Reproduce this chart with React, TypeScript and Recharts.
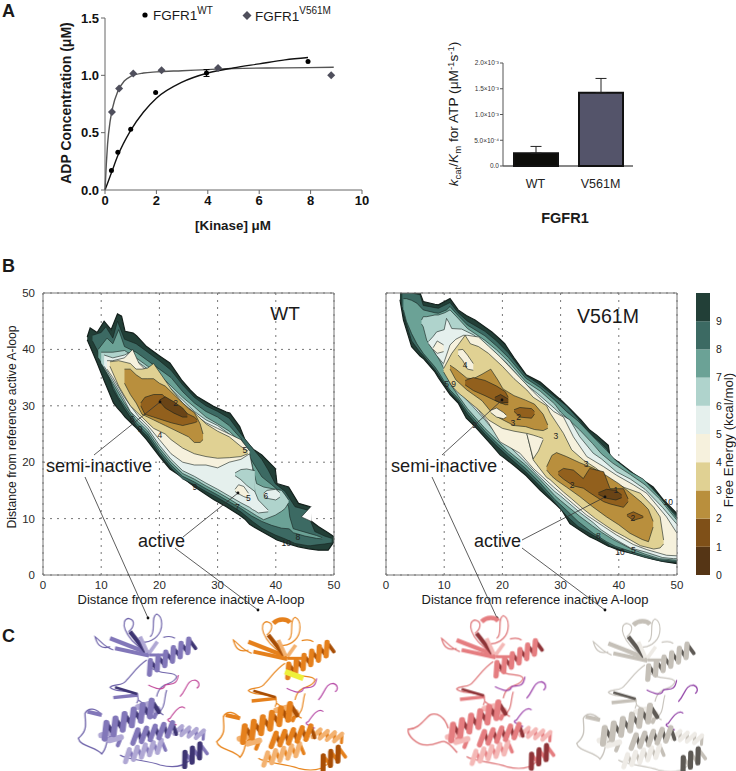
import React from "react";
import {
  ComposedChart, BarChart, Bar, Cell, ErrorBar, Line, Scatter, Area, XAxis, YAxis,
  CartesianGrid, ReferenceLine, ReferenceDot,
} from "recharts";

const FONT = "'Liberation Sans', Arial, sans-serif";

// ---------- Panel A, kinetics ----------
const wtCurve = [[0,0],[0.25,0.15],[0.5,0.3],[1,0.52],[1.5,0.68],[2,0.8],[3,0.94],[4,1.02],[5,1.065],[6,1.1],[7,1.135],[7.9,1.155]];
const vCurve = [[0,0],[0.05,0.22],[0.1,0.4],[0.2,0.6],[0.3,0.72],[0.5,0.86],[0.75,0.95],[1,0.99],[1.5,1.02],[2,1.03],[3,1.04],[4,1.05],[5,1.06],[7,1.065],[8.9,1.07]];
const wtPoints = [[0.25,0.17,0],[0.5,0.33,0],[1,0.53,0],[1.97,0.85,0],[3.95,1.02,0.03],[7.9,1.12,0]];
const vPoints = [[0.27,0.68],[0.55,0.885],[1.1,1.015],[2.2,1.045],[4.4,1.065],[8.8,1.0]];
const kineticXTicks = [0,2,4,6,8,10];
const kineticYTicks = [0,0.5,1,1.5];

// ---------- Panel A, bars ----------
const barCategories = ["WT","V561M"];
const barValues = [2.5e-4,1.42e-3];
const barErrors = [1.3e-4,2.8e-4];
const barColors = ["#0d0d0a","#54546a"];
const barTicks = [0,5e-4,1e-3,1.5e-3,2e-3];
const barTickLabels = ["0.0","5.0×10⁻⁴","1.0×10⁻³","1.5×10⁻³","2.0×10⁻³"];

// ---------- Panel B palette (free-energy bands 0..10) ----------
const bandColors = ["#553515","#7f5018","#b98f3d","#e0d193","#f6f1dd","#e5f0ed","#afd3cc","#6ba296","#3c6a63","#223f37"];
const c1 = "#6a4416", c2 = "#92601d";

// [x, low, high] outlines, WT
const wt10 = [[7.6,41.7,42.2],[8.1,40.5,43.8],[9.3,37.6,43],[10.5,34.5,45],[11.7,31.5,43.5],[12.1,30.5,44.5],[12.8,29.6,46.3],[13.5,28.8,45.9],[14.1,28,43.2],[15.5,26.6,42.9],[16.1,26,42.4],[17.8,24,40.5],[20.1,20.9,38.8],[21.8,18.8,37.6],[23.8,17.4,34.6],[25.3,16.2,32.8],[26.4,15.4,31.7],[29.3,13.4,29.9],[31.5,12.1,28.9],[32.1,11.7,28.7],[33.8,10.6,26.3],[34.7,9.9,24],[35.5,9,23],[36.1,8.6,22.3],[37.6,7.7,21.3],[39.9,6.4,18.9],[40.2,6.2,16.2],[42.2,5.5,15.6],[43.9,5,12.7],[45.9,4.6,12.1],[46,4.6,9.6],[47.3,4.4,8.6],[49,4.4,7.5],[50,5.9,6.8]];
const wt9 = [[8.5,41.5,42.5],[10,38.5,43],[10.8,37,44],[12,33,42],[12.8,31.5,45],[14,29.5,41.8],[16,26.5,41],[18,24.5,39.5],[20,21.5,38],[22,19,36.3],[24,17,33.7],[26,16,31.5],[28,14.8,30],[30,13.7,29],[32,12.5,27.8],[34,11.2,25],[36,9.5,22.5],[37.6,8.3,20.5],[38.7,7.7,18.6],[39.9,7.1,16.2],[41.6,6.4,14.8],[43.3,5.6,12.1],[45.5,5.2,11.5],[46,5.2,9.5],[46.7,5.3,7.7],[48.4,5.5,6.9],[49.6,5.7,6.5]];
const wtNotch = [[44.4,10.3,10.3],[46.1,9.5,12.2]];
const wt8 = [[9.5,38.5,40],[11,36,42],[12,33.5,41],[13,31.5,43.5],[14,30,40.5],[16,27,39.5],[18,25,38],[20,22,36.5],[22,19.5,35],[24,17.5,32.5],[26,16.5,30.5],[28,15.3,29],[30,14.2,28],[32,13,26.5],[34,11.8,24.2],[35.8,10.5,20.4],[37.6,9.5,17.4],[39.3,8.8,16],[41,8.3,14.5],[42.2,8.2,12.1],[42.4,8.1,10.3],[43,7.5,8.2],[45,6.9,7.6],[47,6.5,7],[48,6.4,6.6]];
const wt7 = [[10,37.5,39.5],[12,34,39.5],[14,30.5,39.8],[16,27.5,38.5],[18,25.5,37],[20,22.5,35.5],[22,20,33.5],[24,18,31.5],[26,17,29.8],[28,15.8,28],[30,14.7,26.8],[32,13.5,25.5],[34,12.2,23.5],[35,11.6,22.4],[35.8,11.1,20],[36.7,10.5,16.2],[37.9,9.8,15.6],[39.9,10.6,15.2],[41,11.3,15],[41.6,11.8,14.2],[42.2,12.8,13.3]];
const wt6 = [[10.5,37,39],[12,34.5,38.5],[14,31,39],[15,29,39.5],[16,28,38],[18,26,36.5],[20,23,35],[22,20.5,33],[24,18.5,31],[26,17.5,29],[28,16.3,27.5],[30,15.2,26.5],[32,14,25],[34,12.8,23],[35.5,12,21.5],[36,11.6,19],[36.4,11.4,14.8],[37,11,13.3],[38.7,11.2,11.5]];
const wt7b = [[33,17.6,18.1],[34,16.9,18.7],[35,15.9,18.8],[36.4,14.8,18.5]];
const wt6b = [[37.9,14.2,14.5],[38.5,13.6,15],[40,13.3,15.2],[40.7,13.8,14.6]];
const wt5 = [[11,36.5,38],[12,35,38],[14,31.5,38.5],[15.4,29.5,40],[16.5,28,37.5],[18,26.5,36],[20,24,34.5],[22,21.5,32.5],[24,20,30],[26,19.5,28.5],[28,19.5,27],[30,19,26],[32,20,25],[34,20.5,24],[35.5,21.5,22]];
const wt5b = [[33,14.8,15.2],[33.6,14.4,16],[34.5,13.9,15.7],[35.3,13.6,14.5]];
const wt4 = [[11.5,37,37.8],[13,33.5,38],[15,30,37.5],[16,29,36.5],[17,28,36.5],[18,27,36.7],[19,26,37.5],[20,25.5,36],[21,25,34.5],[22,24,33],[24,22.5,30.5],[26,21.5,28.8],[28,21,26.8],[30,20.7,25.5],[32,20.8,24.5],[34,21,22.8],[35.2,21.5,22]];
const wt3 = [[14,34,36.5],[15,32,36.5],[16,30.5,35.5],[17,28.5,34.8],[18,28,34.8],[19,27.5,34.8],[20,27,34],[21,26.5,33.5],[22,26,32.5],[24,25,30.5],[25,24.5,29.5],[26,23.5,28.8],[27,23.5,26.8],[27.5,24,25]];
const wt2 = [[16.8,30,30.5],[17.5,28.5,31.5],[19,28,32],[20.5,27.5,32],[22,27,30.5],[24,26.5,29],[26,27,28],[26.5,27.2,27.5]];
const wt1 = [[20,30.8,31],[21,29.6,31.6],[22.5,28.7,30.7],[24,28,29.6],[24.8,28,28.6]];

// [x, low, high] outlines, V561M
const v10 = [[2.4,48.8,50],[3,45.2,50],[4.4,40.5,50],[5.85,38.8,50],[6.4,38.4,48.5],[8.4,36,48],[9,35,47.9],[11,32,49],[12.4,30.5,47],[13.8,27.8,46],[15.3,26.3,45.2],[18.2,23,43.1],[19.6,21.3,41.8],[20.4,20.7,41],[22,19.4,38.5],[24.1,17.6,35.5],[26.5,15,34.2],[29.3,12.4,31.7],[30.2,11.5,30.9],[31.6,9.1,29.5],[33.5,7.8,27.5],[35,6.8,25.7],[36.2,6.2,24.8],[38.2,5.1,23],[38.5,5,21],[40,4.4,20],[42.5,3.8,18],[45.9,2.8,15.6],[47.6,2.4,13.4],[50,2,10.9]];
const v9 = [[2.8,47.5,50],[3,46.3,50],[4.4,41.5,50],[5.85,39.5,49.7],[6.4,38.9,47.8],[8.4,36.4,47.4],[9,35.5,47.3],[11,32.4,48.3],[12.4,30.9,46.5],[14,28.5,45],[17,25,43.2],[19,22.9,41.5],[21,21,39.4],[24,18.3,35.4],[26.5,15.7,33.7],[29,12.9,31.6],[31,10.5,30],[33,8.6,27.7],[35,7.4,25],[36.5,6.5,23.8],[38,5.6,22.3],[38.5,5.2,20.7],[41,4.2,19],[44.5,3.1,16.3],[47.5,2.4,13.1],[50,2.2,10.5]];
const v8 = [[3,47,49],[3.5,45,49],[4.4,42.8,48.7],[5.3,41,48.2],[6.4,39.3,47],[8.4,36.9,46.5],[9,36,46.4],[10.4,33.7,47],[11,32.8,47.6],[12.4,31.3,46],[14,29,44.3],[17,25.5,42.4],[19,23.4,40.6],[21,21.5,38.6],[24,18.9,34.9],[26.5,16.3,33.2],[29,13.4,31],[31,11.5,29],[33,9.5,27.3],[35.6,7.4,24.5],[37.9,5.9,22.1],[39.4,5.1,20.4],[42,4.2,18.3],[44.2,3.5,17],[47,2.7,13.9],[50,2.4,10.1]];
const v7 = [[6.1,44.5,45.2],[6.4,44,45.8],[7,41.6,45.8],[8.4,39.5,46.1],[9,38.5,46.1],[10.1,36.3,46.5],[11,34,47],[12.4,31.8,45.5],[14,29.5,43.7],[17,26,41.6],[19,24,39.9],[21,22,37.9],[24,19.5,34.3],[26.5,16.9,32.6],[29,14.1,30.3],[30,13.2,28.9],[33.3,10.4,25.7],[35.5,8.7,23.3],[37,7.6,21.5],[39,6.3,19.8],[42,4.7,17.8],[44.5,3.7,16],[47,2.9,13.5],[50,2.6,9.7]];
const v6 = [[7.3,41,41.4],[8.1,39.9,42.3],[8.7,38.9,43.1],[10,37.3,43.5],[10.4,36.8,45.5],[10.8,35.5,44.8],[11.3,34,43.7],[13,32,43.6],[15,29.8,42.6],[17,27.5,41],[19,25,39.2],[21,23,37.3],[24,20,33.8],[26,17.8,32.2],[29,14.8,29.5],[30,14,28.5],[31.6,12.6,27.5],[33.3,11.1,24.5],[35.6,9.3,21.6],[37,8,20.6],[39.6,6.2,18.3],[42,4.8,17],[44.5,4.1,15.2],[47.5,3.1,12],[49.4,2.9,9.7],[50,2.9,9]];
const v5 = [[9.9,36.3,37.5],[11,35,40.8],[12,33.8,41.8],[13.3,32.6,42.5],[14,32,42.5],[15.9,29.2,42.2],[17.6,27,40.6],[19.6,23.6,38.7],[23,21.6,35],[25.3,18.9,32.5],[28.8,15.6,29],[30.5,14.1,28],[32.2,12.6,24.5],[34.5,10.6,21],[37.4,8.6,19.2],[39.6,7.1,17.7],[42.5,5.4,16],[44.8,4.5,14.5],[48.2,3.5,10.3],[50,3.4,7.4]];
const v5b = [[8.1,40,40.3],[8.8,39.3,41.5],[9.9,39.6,40.8]];
const v4 = [[9.9,36,36.6],[11.3,33.5,39.3],[12.4,32.3,40.8],[13.6,31.3,42.5],[14.5,30.5,41],[15.9,29.3,40.5],[17.6,27.5,39.3],[20,26,37],[22,25.5,34.8],[24.2,25.1,32.8],[25.3,20.4,31.5],[27.6,17.3,30],[28.2,16.9,28.7],[30.5,14.7,25.1],[31.9,13.5,22.2],[33.9,11.7,20.4],[36,10,19],[39,7.9,16.5],[41,6.8,15.5],[43.7,5.2,14.5],[46,4.6,12],[47.1,4.8,10.3],[47.7,5.5,6.2]];
const v4hole = [[12.4,39,39.9],[13.2,38,40],[14,36.5,39],[15,36.3,37.5]];
const v4hole2 = [[24.2,25,25.1],[25.3,20.6,24.8],[26.2,22,24.5],[27,24,24.2]];
const v3a = [[11,36.5,37.2],[12,34.6,36.5],[13.9,32.8,34.9],[15,32,34.8],[16.5,30.9,35.6],[18,29,36.5],[19.2,28,34.6],[20.1,27.5,33],[22,26.5,31.8],[24,26.3,31],[25.5,25.8,30.3],[27,25.6,28.5],[27.8,26,26.6]];
const v3b = [[27.6,18.6,19.2],[28.5,17.5,21.2],[29.3,16.8,21.7],[31,15.6,21],[33.3,13.9,19.9],[35.5,12.1,19],[37.9,10.3,17.6],[40,8.9,16.2],[41.9,7.4,14.6],[44,6.3,12.8],[45.1,5.9,11.6],[45.9,8.5,9.5]];
const v3hole = [[18,28.8,29.2],[19,28,29.6],[20.2,27.7,28.8],[20.7,28,28.3]];
const v2a = [[13.6,33.7,34.5],[15,32.7,35],[17,31.8,34.5],[19,30.8,33.5],[20.5,30.2,32.5],[21,30.2,31.5]];
const v2b = [[22,29,29.3],[23,28,29.7],[25,27.8,29.5],[25.5,28.5,29]];
const v2c = [[29.6,17.8,18.3],[30.5,17,18.9],[32.2,15.8,18.6],[33.9,15.4,17.1],[35,14.6,18.9],[37.4,13,18.3],[38.5,12.6,15.3],[40.8,12,15.3],[41.6,13,13.5]];
const v2d = [[41.4,10.5,10.7],[42.5,9.7,11.2],[44.2,10.2,10.4]];
const v1a = [[18.7,31,31.5],[19.7,30.5,32],[21,30.6,31.2]];
const v1b = [[36.5,14.3,14.6],[37.9,13.6,15.2],[39.5,13.3,15],[40.5,13.7,14.2]];

const wtBands = [[wt10,9],[wt9,8],[wtNotch,"#ffffff"],[wt8,7],[wt7,6],[wt6,5],[wt7b,6],[wt6b,5],[wt5,4],[wt5b,4],[wt4,3],[wt3,2],[wt2,c2],[wt1,c1]];
const vBands = [[v10,9],[v9,8],[v8,7],[v7,6],[v6,5],[v5,4],[v5b,4],[v4,3],[v4hole,4],[v4hole2,4],[v3a,2],[v3b,2],[v3hole,4],[v2a,c2],[v2b,c2],[v2c,c2],[v2d,c2],[v1a,c1],[v1b,c1]];

const wtLabels = [[22.8,30.5,"2"],[15.3,27.7,"6"],[16.7,25.9,"9"],[20.1,24.9,"4"],[34.7,22.2,"5"],[26.1,15.6,"9"],[35.3,13.6,"5"],[38.3,14,"6"],[33.4,12,"7"],[43.8,6.8,"8"],[41.8,5.6,"10"]];
const vLabels = [[13.6,37.2,"4"],[10.4,33.8,"5"],[11.6,33.8,"9"],[22.8,28.1,"2"],[21.8,27,"3"],[29.2,24.7,"3"],[34.4,19.7,"3"],[32,16,"2"],[39.5,15,"1"],[42.4,10.1,"2"],[36.5,7,"8"],[42.5,4.5,"5"],[40.2,4,"10"],[48.5,13,"10"],[15.2,26.6,"9"]];
const contourTicks = [0,10,20,30,40,50];

// ---------- Colour bar ----------
const colorBarRow = [{ name: "fe", b0:1,b1:1,b2:1,b3:1,b4:1,b5:1,b6:1,b7:1,b8:1,b9:1 }];
const colorBarKeys = ["b0","b1","b2","b3","b4","b5","b6","b7","b8","b9"];
const colorBarTicks = [0,1,2,3,4,5,6,7,8,9];

// ---------- Helpers ----------
const rows = (pts) => pts.map((p) => ({ x: p[0], v: [p[1], p[2]] }));
const xy = (pts) => pts.map((p) => ({ x: p[0], y: p[1], e: p[2] ?? 0 }));
const tickStyle = { fontSize: 11.5, fill: "#2a2a2a", fontFamily: FONT };

function ContourChart({ bands, labels, left, showY }) {
  return (
    <div style={{ position: "absolute", left, top: 283 }}>
      <ComposedChart width={345} height={312} margin={{ top: 10, right: 11, bottom: 0, left: 0 }}>
        <CartesianGrid stroke="#777" strokeDasharray="2 5" strokeWidth={1} />
        <XAxis type="number" dataKey="x" domain={[0,50]} ticks={contourTicks} allowDataOverflow height={20}
          tick={tickStyle} tickLine={false} axisLine={{ stroke: "#777" }} tickMargin={0} interval={0} />
        <YAxis type="number" domain={[0,50]} ticks={contourTicks} allowDataOverflow width={43}
          tick={showY ? tickStyle : false} tickLine={false} axisLine={{ stroke: "#777" }} tickMargin={2} interval={0} />
        {bands.map(([pts, c], i) => (
          <Area key={i} data={rows(pts)} dataKey="v" type="linear" isAnimationActive={false}
            fill={typeof c === "number" ? bandColors[c] : c} fillOpacity={1} stroke="#14201c" strokeWidth={i === 0 ? 1.2 : 0.6}
            dot={false} activeDot={false} />
        ))}
        <ReferenceLine x={50} stroke="#777" />
        <ReferenceLine y={50} stroke="#777" />
        {labels.map(([x, y, t], i) => (
          <ReferenceDot key={i} x={x} y={y} r={0} fill="none" stroke="none"
            label={{ value: t, position: "center", fontSize: 8.5, fill: "#222", fontFamily: FONT }} />
        ))}
      </ComposedChart>
    </div>
  );
}

// ---------- Panel C, ribbon sketches (coordinates are on a 3x page grid) ----------
const helices = [
  [440,208,578,130,34,6,0],
  [305,398,468,318,40,6,0],
  [395,412,525,385,36,5,0],
  [525,388,612,405,26,4,1],
  [372,470,492,435,32,5,1],
  [310,395,360,425,26,2,1],
  [420,310,470,340,26,2,1],
];
const endHelix = [545,484,612,445,36,3];
const sheets = [
  ["M330,115 L445,160", 13, 0],
  ["M345,145 L447,167", 12, 0],
  ["M390,95 L437,155", 13, 1],
  ["M420,110 L442,158", 12, 2],
  ["M472,125 L447,160", 11, 2],
  ["M447,165 L500,165", 9, 0],
  ["M340,293 L415,285", 10, 0],
  ["M345,262 L412,282", 8, 1],
];
const loops = [
  "M330,140 C300,150 290,130 285,110 C300,120 310,140 340,150",
  "M430,150 C370,110 360,60 385,55 C410,60 400,85 385,95",
  "M450,110 C470,100 450,50 470,42 C490,50 490,90 470,110 C450,130 420,130 410,120",
  "M440,180 C410,200 400,220 380,240 C370,260 340,250 330,262 C340,275 370,270 400,280 C420,290 415,300 410,310",
  "M360,465 C380,480 440,480 480,495 C520,505 550,500 570,480",
  "M500,270 C490,300 500,320 470,345",
  "M490,112 C505,108 518,110 525,115",
  "M450,200 C480,230 520,210 530,230 C520,260 480,240 470,290",
  "M415,300 C440,320 470,330 490,345",
];
const leftLoop = "M305,345 C290,325 265,320 255,340 C255,370 265,390 235,415 C240,440 290,440 305,462 C325,440 315,420 330,410";
const pinkLeftLoop = "M305,380 C295,345 270,330 250,340 C235,350 215,385 185,382 C180,400 210,430 240,430 C265,432 285,415 295,420 C310,425 320,440 332,453";
const capStrand = "M405,60 C420,45 445,45 455,58";
const magentaLoops = [
  "M445,255 C465,265 490,275 495,255 C510,250 530,260 535,225",
  "M540,290 C560,270 560,240 585,240 C600,245 600,260 590,265",
  "M555,325 C540,310 520,340 510,355 C490,360 520,370 530,375",
];
const proteins = [
  { dx: 0, dy: 0, light: "#b0a8d4", mid: "#8277b9", dark: "#3e3573", loop: "#6f64aa", mag: "#c24a9a", left: leftLoop, tag: "M262,335 L305,345", cap: false },
  { dx: 415, dy: 10, light: "#f3b271", mid: "#e5801c", dark: "#a84e05", loop: "#e8861f", mag: "#b84ea8", left: leftLoop, tag: "M262,335 L305,345", cap: true, yellow: "M440,205 L495,225" },
  { dx: 1040, dy: 5, light: "#f4b8b6", mid: "#e57d80", dark: "#8f3438", loop: "#dc6f72", mag: "#9a3fa8", left: pinkLeftLoop, cap: true },
  { dx: 1495, dy: 15, light: "#eeebe6", mid: "#c5c0b8", dark: "#5e5a55", loop: "#c9c5be", mag: "#8f3fa5", left: leftLoop, tag: "M262,335 L305,345", cap: true },
];

// Drawn coil: front strokes one way, back strokes the other
function coilPaths(x1, y1, x2, y2, w, n) {
  const dx = x2 - x1, dy = y2 - y1, len = Math.hypot(dx, dy);
  const nx = (-dy / len) * (w / 2), ny = (dx / len) * (w / 2);
  const at = (f, s) => `${(x1 + dx * f + nx * s).toFixed(1)},${(y1 + dy * f + ny * s).toFixed(1)}`;
  let front = "", back = "";
  for (let k = 0; k < n; k++) {
    front += `M${at(k / n, 1)} L${at((k + 0.85) / n, -1)} `;
    back += `M${at((k + 0.85) / n, -1)} L${at((k + 1) / n, 1)} `;
  }
  return { front, back, stroke: (len / n) * 0.6 };
}

function Coil({ spec, frontColor, backColor }) {
  const [x1, y1, x2, y2, w, n] = spec;
  const c = coilPaths(x1, y1, x2, y2, w, n);
  return (
    <g strokeLinecap="round">
      <path d={c.back} stroke={backColor} strokeWidth={c.stroke * 0.7} />
      <path d={c.front} stroke={frontColor} strokeWidth={c.stroke} />
    </g>
  );
}

function Protein({ p }) {
  const tone = [p.mid, p.dark, p.light];
  return (
    <g transform={`translate(${p.dx},${p.dy})`} fill="none">
      {loops.map((d, i) => <path key={i} d={d} stroke={p.loop} strokeWidth={3.5} />)}
      <path d={p.left} stroke={p.loop} strokeWidth={4} />
      {magentaLoops.map((d, i) => <path key={i} d={d} stroke={p.mag} strokeWidth={3.5} />)}
      {helices.filter((h) => h[6] === 1).map((h, i) => <Coil key={i} spec={h} frontColor={p.light} backColor={p.mid} />)}
      {helices.filter((h) => h[6] === 0).map((h, i) => <Coil key={i} spec={h} frontColor={p.mid} backColor={p.dark} />)}
      <Coil spec={endHelix} frontColor={p.dark} backColor={p.mid} />
      {sheets.map(([d, w, k], i) => <path key={i} d={d} stroke={tone[k]} strokeWidth={w} />)}
      {p.tag ? <path d={p.tag} stroke={p.mid} strokeWidth={12} /> : null}
      {p.cap ? <path d={capStrand} stroke={p.mid} strokeWidth={14} /> : null}
      {p.yellow ? <path d={p.yellow} stroke="#eef03c" strokeWidth={17} /> : null}
    </g>
  );
}

function Arrow({ d, head }) {
  return (
    <g>
      <path d={d} stroke="#333" strokeWidth={0.8} fill="none" />
      {head ? <circle cx={head[0]} cy={head[1]} r={1.4} fill="#111" /> : null}
    </g>
  );
}

const annotationLines = [
  ["M94,455 L160,402", [160,402]],
  ["M85,477 L148,618", [148,618]],
  ["M183,537 L238,493", [238,493]],
  ["M175,548 L258,610", [258,610]],
  ["M442,455 L502,400", [502,400]],
  ["M432,477 L497,618", [497,618]],
  ["M522,540 L605,497", [605,497]],
  ["M522,548 L605,610", [605,610]],
];

function Overlay() {
  const t = { fontFamily: FONT, fill: "#1a1a1a" };
  return (
    <svg width={736} height={771} style={{ position: "absolute", left: 0, top: 0, pointerEvents: "none" }}>
      <text x={2} y={17} fontSize={18} fontWeight="bold" {...t}>A</text>
      <text x={2} y={272} fontSize={18} fontWeight="bold" {...t}>B</text>
      <text x={2} y={642} fontSize={18} fontWeight="bold" {...t}>C</text>

      <circle cx={145} cy={15} r={2.6} fill="#000" />
      <text x={153} y={20} fontSize={13.5} {...t}>FGFR1<tspan fontSize={10} dy={-6}>WT</tspan></text>
      <polygon points="247,11 251.5,15.5 247,20 242.5,15.5" fill="#4f4f5c" />
      <text x={255} y={21} fontSize={13.5} {...t}>FGFR1<tspan fontSize={10} dy={-7}>V561M</tspan></text>
      <text transform="translate(71,103) rotate(-90)" textAnchor="middle" fontSize={14} fontWeight="bold" {...t}>ADP Concentration (μM)</text>
      <text x={233} y={230} textAnchor="middle" fontSize={13.4} fontWeight="bold" {...t}>[Kinase] μM</text>

      <text transform="translate(458,114) rotate(-90)" textAnchor="middle" fontSize={13.7} {...t}>
        <tspan fontStyle="italic">k</tspan><tspan fontSize={9.5} dy={3}>cat</tspan><tspan dy={-3}>/</tspan><tspan fontStyle="italic">K</tspan><tspan fontSize={9.5} dy={3}>m</tspan><tspan dy={-3}> for ATP (μM</tspan><tspan fontSize={9.5} dy={-4}>-1</tspan><tspan dy={4}>s</tspan><tspan fontSize={9.5} dy={-4}>-1</tspan><tspan dy={4}>)</tspan>
      </text>
      <text x={565} y={223} textAnchor="middle" fontSize={14.5} fontWeight="bold" {...t}>FGFR1</text>

      <text transform="translate(16,427) rotate(-90)" textAnchor="middle" fontSize={12.2} {...t}>Distance from reference active A-loop</text>
      <text x={191} y={604} textAnchor="middle" fontSize={13} {...t}>Distance from reference inactive A-loop</text>
      <text x={535} y={604} textAnchor="middle" fontSize={13} {...t}>Distance from reference inactive A-loop</text>
      <text x={285} y={320} textAnchor="middle" fontSize={19} {...t}>WT</text>
      <text x={608} y={323} textAnchor="middle" fontSize={19.5} {...t}>V561M</text>
      <text x={46} y={472} fontSize={18.2} {...t}>semi-inactive</text>
      <text x={138} y={547} fontSize={18} {...t}>active</text>
      <text x={391} y={472} fontSize={18.2} {...t}>semi-inactive</text>
      <text x={474} y={547} fontSize={18} {...t}>active</text>
      <text transform="translate(733,440) rotate(-90)" textAnchor="middle" fontSize={13.3} {...t}>Free Energy (kcal/mol)</text>

      {annotationLines.map(([d, h], i) => <Arrow key={i} d={d} head={h} />)}

      <g transform="translate(0,600) scale(0.3333)" style={{ filter: "blur(1px)" }}>
        {proteins.map((p, i) => <Protein key={i} p={p} />)}
      </g>
    </svg>
  );
}

export default function App() {
  const barData = barCategories.map((name, i) => ({ name, value: barValues[i], err: [0, barErrors[i]] }));
  return (
    <div style={{ position: "absolute", left: 0, top: 0, width: 736, height: 771, background: "#fff", overflow: "hidden", fontFamily: FONT }}>
      {/* Panel A kinetics */}
      <div style={{ position: "absolute", left: 60, top: 8 }}>
        <ComposedChart width={320} height={212} margin={{ top: 10, right: 18, bottom: 0, left: 0 }}>
          <XAxis type="number" dataKey="x" domain={[0,10]} ticks={kineticXTicks} height={30} interval={0}
            tick={{ fontSize: 13, fontWeight: "bold", fill: "#111", fontFamily: FONT }} tickLine={{ stroke: "#666" }} tickSize={4}
            axisLine={{ stroke: "#666" }} />
          <YAxis type="number" domain={[0,1.5]} ticks={kineticYTicks} width={45} interval={0}
            tickFormatter={(v) => v.toFixed(1)}
            tick={{ fontSize: 13, fontWeight: "bold", fill: "#111", fontFamily: FONT }} tickLine={{ stroke: "#666" }} tickSize={4}
            axisLine={{ stroke: "#666" }} />
          <Line data={xy(vCurve)} dataKey="y" type="monotone" stroke="#555" strokeWidth={1.4} dot={false} isAnimationActive={false} />
          <Line data={xy(wtCurve)} dataKey="y" type="monotone" stroke="#111" strokeWidth={1.4} dot={false} isAnimationActive={false} />
          <Scatter data={xy(vPoints)} dataKey="y" isAnimationActive={false}
            shape={(p) => <polygon points={`${p.cx},${p.cy-4} ${p.cx+4},${p.cy} ${p.cx},${p.cy+4} ${p.cx-4},${p.cy}`} fill="#4f4f5c" />} />
          <Scatter data={xy(wtPoints)} dataKey="y" isAnimationActive={false}
            shape={(p) => <circle cx={p.cx} cy={p.cy} r={2.5} fill="#000" />}>
            <ErrorBar dataKey="e" direction="y" width={3} stroke="#000" strokeWidth={1} isAnimationActive={false} />
          </Scatter>
        </ComposedChart>
      </div>

      {/* Panel A bars */}
      <div style={{ position: "absolute", left: 448, top: 54 }}>
        <BarChart width={195} height={142} data={barData} margin={{ top: 9, right: 10, bottom: 0, left: 0 }} barCategoryGap={0}>
          <XAxis dataKey="name" height={30} tick={{ fontSize: 12.5, fill: "#222", fontFamily: FONT }} tickLine={false} axisLine={{ stroke: "#111" }} tickMargin={7} interval={0} />
          <YAxis type="number" domain={[0,2e-3]} ticks={barTicks} width={55} interval={0}
            tickFormatter={(v) => barTickLabels[barTicks.indexOf(v)]}
            tick={{ fontSize: 6.5, fill: "#333", fontFamily: FONT }} tickLine={{ stroke: "#555" }} tickSize={3} tickMargin={1}
            axisLine={{ stroke: "#555" }} />
          <Bar dataKey="value" barSize={44} stroke="#111" strokeWidth={2} isAnimationActive={false}>
            {barData.map((d, i) => <Cell key={d.name} fill={barColors[i]} />)}
            <ErrorBar dataKey="err" direction="y" width={5.5} stroke="#222" strokeWidth={1} isAnimationActive={false} />
          </Bar>
        </BarChart>
      </div>

      {/* Panel B */}
      <ContourChart bands={wtBands} labels={wtLabels} left={0} showY />
      <ContourChart bands={vBands} labels={vLabels} left={343} showY={false} />

      {/* Colour bar */}
      <div style={{ position: "absolute", left: 696, top: 283 }}>
        <BarChart width={40} height={302} data={colorBarRow} margin={{ top: 10, right: 0, bottom: 10, left: 0 }} barCategoryGap={0}>
          <XAxis dataKey="name" hide />
          <YAxis orientation="right" type="number" domain={[0,10]} ticks={colorBarTicks} width={26} interval={0}
            tick={{ fontSize: 10.5, fill: "#222", fontFamily: FONT }} tickLine={false} axisLine={false} tickMargin={0} />
          {colorBarKeys.map((k, i) => (
            <Bar key={k} dataKey={k} stackId="fe" fill={bandColors[i]} isAnimationActive={false} />
          ))}
        </BarChart>
      </div>

      <Overlay />
    </div>
  );
}
